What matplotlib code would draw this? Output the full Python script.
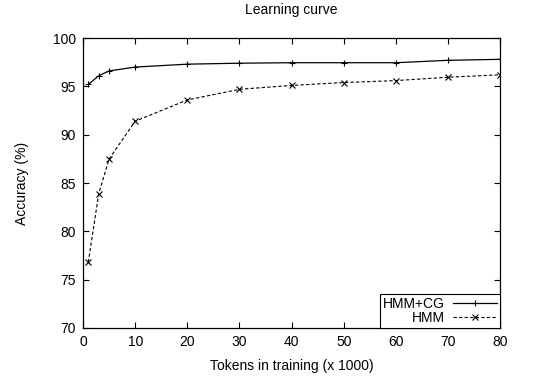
import matplotlib
matplotlib.use("Agg")
import matplotlib.pyplot as plt

# data (tokens in thousands, accuracy %)
tokens = [1, 3, 5, 10, 20, 30, 40, 50, 60, 70, 80]
acc_hmm_cg = [95.2, 96.1, 96.6, 97.0, 97.3, 97.4, 97.45, 97.45, 97.45, 97.7, 97.8]
acc_hmm = [76.8, 83.9, 87.5, 91.4, 93.6, 94.7, 95.1, 95.4, 95.6, 95.95, 96.2]

x_ticks = list(range(0, 81, 10))
y_ticks = list(range(70, 101, 5))

plt.rcParams["font.family"] = ["Liberation Sans", "DejaVu Sans"]

fig = plt.figure(figsize=(5.36, 3.77), dpi=100)
ax = fig.add_axes([0.155, 0.130, 0.778, 0.769])

ax.plot(tokens, acc_hmm_cg, "-", color="black", lw=0.9, marker="+", ms=5, mew=0.8, label="HMM+CG")
ax.plot(tokens, acc_hmm, "--", color="black", lw=0.8, dashes=(3, 2), marker="x", ms=4, mew=0.8, label="HMM")

ax.set_xlim(0, 80)
ax.set_ylim(70, 100)
ax.set_xticks(x_ticks)
ax.set_yticks(y_ticks)
ax.tick_params(direction="in", length=4, width=0.8, top=True, right=True, labelsize=10, pad=5)
for s in ax.spines.values():
    s.set_linewidth(0.9)

ax.set_xlabel("Tokens in training (x 1000)", fontsize=10, labelpad=7)
ax.set_ylabel("Accuracy (%)", fontsize=10, labelpad=17)
ax.set_title("Learning curve", fontsize=10, pad=17)

leg = ax.legend(loc="lower right", markerfirst=False, fancybox=False, framealpha=1,
                edgecolor="black", fontsize=10, borderaxespad=0, handlelength=3.2,
                handletextpad=0.6, labelspacing=0.05, borderpad=0.2)
leg.get_frame().set_linewidth(0.8)

fig.savefig("out.png", dpi=100)
